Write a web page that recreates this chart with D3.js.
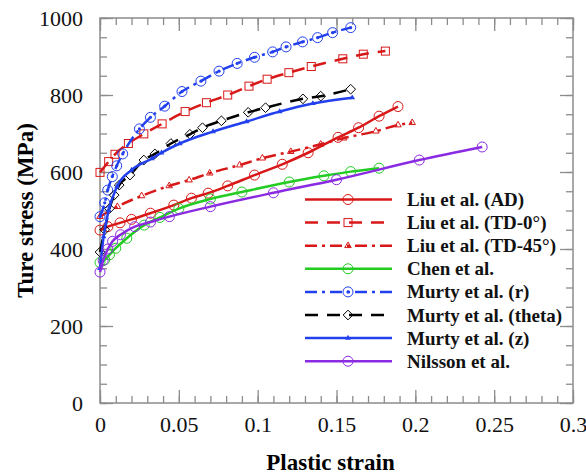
<!DOCTYPE html>
<html>
<head>
<meta charset="utf-8">
<script src="https://cdn.jsdelivr.net/npm/d3@7"></script>
<style>
  body { margin: 0; background: #fff; }
  svg { display: block; }
  text { font-family: "Liberation Serif", "Times New Roman", serif; }
</style>
</head>
<body>
<div id="chart"></div>
<script>
// ========================
// Data
// ========================
const seriesNames = [
    "Liu et al. (AD)", "Liu et al. (TD-0°)", "Liu et al. (TD-45°)", "Chen et al.",
    "Murty et al. (r)", "Murty et al. (theta)", "Murty et al. (z)", "Nilsson et al."
];

// [plastic strain, true stress MPa]
const liuAD = [[0,449],[0.005,458],[0.0127,468],[0.02,477],[0.032,493],[0.0468,514],[0.058,532],[0.0686,545],
    [0.081,564],[0.098,592],[0.1156,620],[0.132,650],[0.151,690],[0.164,715],[0.177,745],[0.189,770]];
const liuTD0 = [[0,599],[0.0055,627],[0.0095,646],[0.018,674],[0.0278,699],[0.0394,725],[0.054,757],[0.0675,780],
    [0.081,800],[0.0945,823],[0.106,841],[0.1198,858],[0.134,874],[0.154,894],[0.167,906],[0.181,914]];
const liuTD45 = [[0,484],[0.011,510],[0.0264,538],[0.0439,564],[0.0565,579],[0.0696,597],[0.0886,618],[0.103,636],
    [0.121,653],[0.140,672],[0.1546,688],[0.175,706],[0.189,722],[0.198,728]];
const chen = [[0,365],[0.003,372],[0.006,385],[0.01,402],[0.017,428],[0.028,462],[0.038,482],[0.05,505],
    [0.07,530],[0.09,548],[0.12,574],[0.142,590],[0.159,601],[0.177,610]];
const murtyR = [[0,484],[0.003,520],[0.0049,553],[0.0078,588],[0.0106,616],[0.0144,647],[0.025,712],[0.032,742],
    [0.041,771],[0.052,809],[0.064,836],[0.0755,862],[0.087,882],[0.098,898],[0.1095,912],[0.118,925],
    [0.1285,938],[0.138,949],[0.1475,962],[0.159,975]];
const murtyTheta = [[0,392],[0.003,450],[0.006,505],[0.009,540],[0.0122,566],[0.019,592],[0.0278,631],[0.0348,647],
    [0.045,674],[0.057,698],[0.065,715],[0.077,733],[0.094,755],[0.105,767],[0.1287,790],[0.14,797],[0.159,815]];
const murtyZ = [[0,350],[0.0023,432],[0.0055,501],[0.0108,562],[0.020,605],[0.033,635],[0.039,650],[0.0506,674],
    [0.0717,705],[0.093,731],[0.114,757],[0.135,778],[0.16,793]];
const nilsson = [[0,340],[0.002,370],[0.005,400],[0.008,420],[0.013,437],[0.022,458],[0.032,470],[0.044,484],
    [0.07,510],[0.11,546],[0.15,580],[0.2025,631],[0.2424,665]];

const xTicks = [0, 0.05, 0.1, 0.15, 0.2, 0.25, 0.3];
const yTicks = [0, 200, 400, 600, 800, 1000];

// ========================
// Styles per series
// ========================
const red = "#d81818", green = "#22cc22", blue = "#2240ee", purple = "#8a2be2";
const series = [
    { name: seriesNames[0], data: liuAD,      color: red,    dash: null,          marker: "circle" },
    { name: seriesNames[1], data: liuTD0,     color: red,    dash: "13,9",        marker: "square" },
    { name: seriesNames[2], data: liuTD45,    color: red,    dash: "12,5,3,5",    marker: "triangle" },
    { name: seriesNames[3], data: chen,       color: green,  dash: null,          marker: "circle" },
    { name: seriesNames[4], data: murtyR,     color: blue,   dash: "12,5,3,5",    marker: "dotcircle" },
    { name: seriesNames[5], data: murtyTheta, color: "#000", dash: "13,9",        marker: "diamond" },
    { name: seriesNames[6], data: murtyZ,     color: blue,   dash: null,          marker: "smalltri" },
    { name: seriesNames[7], data: nilsson,    color: purple, dash: null,          marker: "circle" }
];

// ========================
// Setup
// ========================
const width = 586, height = 476;
const mLeft = 100, mRight = 573, mTop = 18, mBottom = 403;
const axisColor = "#8c8c8c";
const serif = "Liberation Serif";

const svg = d3.select("#chart").append("svg")
    .attr("width", width)
    .attr("height", height);

const x = d3.scaleLinear().domain([0, 0.3]).range([mLeft, mRight]);
const y = d3.scaleLinear().domain([0, 1000]).range([mBottom, mTop]);

// --- Axes: major + minor ticks, all pointing inward, mirrored on top/right ---
const xMinor = d3.range(0, 0.3001, 0.01);
const yMinor = d3.range(0, 1000.1, 50);

function styleAxis(g) {
    g.attr("font-family", serif).attr("font-size", 22);
    g.select(".domain").remove();
    g.selectAll("line").attr("stroke", axisColor).attr("stroke-width", 1.3);
    g.selectAll("text").attr("fill", "#111");
}

svg.append("g").attr("transform", `translate(0,${mBottom})`)
    .call(d3.axisBottom(x).tickValues(xMinor).tickSize(-7).tickFormat(""))
    .call(styleAxis);
svg.append("g").attr("transform", `translate(0,${mBottom})`)
    .call(d3.axisBottom(x).tickValues(xTicks).tickSize(-13).tickPadding(13).tickFormat(d => d3.format("~g")(d)))
    .call(styleAxis);
svg.append("g").attr("transform", `translate(0,${mTop})`)
    .call(d3.axisTop(x).tickValues(xMinor).tickSize(-7).tickFormat(""))
    .call(styleAxis);
svg.append("g").attr("transform", `translate(0,${mTop})`)
    .call(d3.axisTop(x).tickValues(xTicks).tickSize(-13).tickFormat(""))
    .call(styleAxis);

svg.append("g").attr("transform", `translate(${mLeft},0)`)
    .call(d3.axisLeft(y).tickValues(yMinor).tickSize(-7).tickFormat(""))
    .call(styleAxis);
svg.append("g").attr("transform", `translate(${mLeft},0)`)
    .call(d3.axisLeft(y).tickValues(yTicks).tickSize(-13).tickPadding(17).tickFormat(d3.format("d")))
    .call(styleAxis);
svg.append("g").attr("transform", `translate(${mRight},0)`)
    .call(d3.axisRight(y).tickValues(yMinor).tickSize(-7).tickFormat(""))
    .call(styleAxis);
svg.append("g").attr("transform", `translate(${mRight},0)`)
    .call(d3.axisRight(y).tickValues(yTicks).tickSize(-13).tickFormat(""))
    .call(styleAxis);

// frame
svg.append("rect")
    .attr("x", mLeft).attr("y", mTop)
    .attr("width", mRight - mLeft).attr("height", mBottom - mTop)
    .attr("fill", "none")
    .attr("stroke", axisColor)
    .attr("stroke-width", 1.5);

// axis titles
svg.append("text")
    .attr("x", (mLeft + mRight) / 2 - 6)
    .attr("y", 470)
    .attr("text-anchor", "middle")
    .attr("font-family", serif).attr("font-size", 23).attr("font-weight", "bold")
    .text("Plastic strain");

svg.append("text")
    .attr("transform", `translate(33,${(mTop + mBottom) / 2}) rotate(-90)`)
    .attr("text-anchor", "middle")
    .attr("font-family", serif).attr("font-size", 23).attr("font-weight", "bold")
    .text("Ture stress (MPa)");

// ========================
// Markers
// ========================
function drawMarker(g, type, color, cx, cy) {
    if (type === "circle" || type === "dotcircle") {
        g.append("circle").attr("cx", cx).attr("cy", cy).attr("r", 5)
            .attr("fill", "none").attr("stroke", color).attr("stroke-width", 1);
        if (type === "dotcircle") {
            g.append("circle").attr("cx", cx).attr("cy", cy).attr("r", 1.6).attr("fill", color);
        }
    } else if (type === "square") {
        g.append("rect").attr("x", cx - 4).attr("y", cy - 4).attr("width", 8).attr("height", 8)
            .attr("fill", "none").attr("stroke", color).attr("stroke-width", 1);
    } else if (type === "diamond") {
        g.append("path").attr("d", d3.symbol(d3.symbolDiamond2, 60)())
            .attr("transform", `translate(${cx},${cy})`)
            .attr("fill", "none").attr("stroke", color).attr("stroke-width", 1);
    } else if (type === "triangle") {
        g.append("path").attr("d", d3.symbol(d3.symbolTriangle2, 30)())
            .attr("transform", `translate(${cx},${cy})`)
            .attr("fill", "none").attr("stroke", color).attr("stroke-width", 1);
    } else if (type === "smalltri") {
        g.append("path").attr("d", d3.symbol(d3.symbolTriangle, 14)())
            .attr("transform", `translate(${cx},${cy})`)
            .attr("fill", color);
    }
}

// ========================
// Lines
// ========================
const line = d3.line()
    .x(d => x(d[0]))
    .y(d => y(d[1]))
    .curve(d3.curveMonotoneX);

const plot = svg.append("g");
series.forEach(s => {
    plot.append("path")
        .datum(s.data)
        .attr("d", line)
        .attr("fill", "none")
        .attr("stroke", s.color)
        .attr("stroke-width", 2.5)
        .attr("stroke-dasharray", s.dash);
    const mg = plot.append("g");
    s.data.forEach(d => drawMarker(mg, s.marker, s.color, x(d[0]), y(d[1])));
});

// ========================
// Legend
// ========================
const legend = svg.append("g");
const rowY0 = 199.5, rowStep = 23.1;
series.forEach((s, i) => {
    const ry = rowY0 + i * rowStep;
    legend.append("line")
        .attr("x1", 305).attr("x2", 392)
        .attr("y1", ry).attr("y2", ry)
        .attr("stroke", s.color)
        .attr("stroke-width", 2.5)
        .attr("stroke-dasharray", s.dash);
    drawMarker(legend, s.marker, s.color, 348, ry);
    legend.append("text")
        .attr("x", 407)
        .attr("y", ry + 6.5)
        .attr("font-family", serif).attr("font-size", 19).attr("font-weight", "bold")
        .attr("fill", "#111")
        .text(s.name);
});
</script>
</body>
</html>
